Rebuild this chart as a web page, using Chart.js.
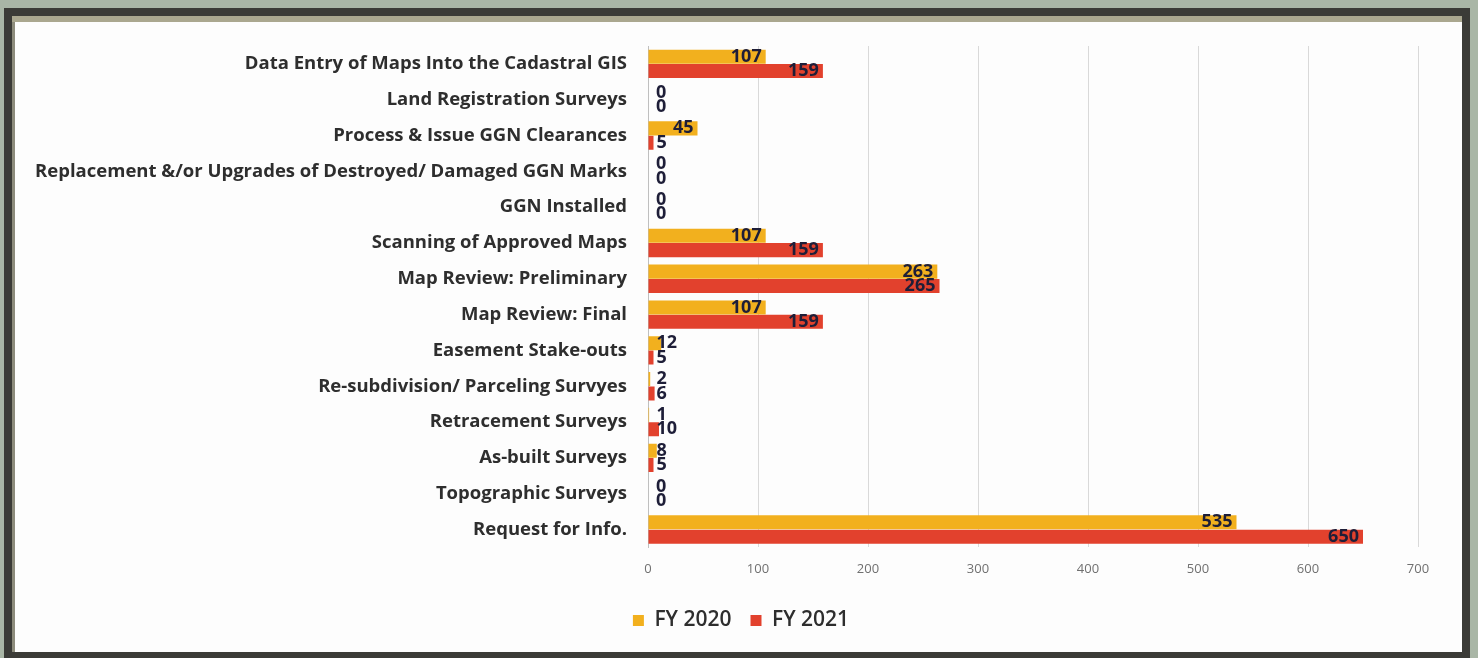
<!DOCTYPE html>
<html>
<head>
<meta charset="utf-8">
<script src="https://cdn.jsdelivr.net/npm/chart.js@4"></script>
<style>
 body{margin:0;background:#a9b6a6;width:1478px;height:658px;overflow:hidden;position:relative}
 #frame{position:absolute;left:4px;top:8px;width:1450px;height:636px;border:8px solid #3b3b37;border-bottom-width:6px;background:#fdfdfd;box-shadow:inset 0 6px 0 #aaa78f, inset 3px 0 0 #8d8c7c}
 #chart{position:absolute;left:0;top:0}
</style>
</head>
<body>
<div id="frame"></div>
<canvas id="chart" width="1478" height="658"></canvas>
<script>
const categories=[
 "Data Entry of Maps Into the Cadastral GIS",
 "Land Registration Surveys",
 "Process & Issue GGN Clearances",
 "Replacement &/or Upgrades of Destroyed/ Damaged GGN Marks",
 "GGN Installed",
 "Scanning of Approved Maps",
 "Map Review: Preliminary",
 "Map Review: Final",
 "Easement Stake-outs",
 "Re-subdivision/ Parceling Survyes",
 "Retracement Surveys",
 "As-built Surveys",
 "Topographic Surveys",
 "Request for Info."
];
const fy2020=[107,0,45,0,0,107,263,107,12,2,1,8,0,535];
const fy2021=[159,0,5,0,0,159,265,159,5,6,10,5,0,650];
const xTicks=[0,100,200,300,400,500,600,700];

const labelFont="'Open Sans', 'Noto Sans', sans-serif";

// value labels at the end of each bar (inside end, or just past the axis when too short)
const valueLabels={
 id:"valueLabels",
 afterUpdate(chart){
  // legend sits a little right of centre in the original
  if(chart.legend){chart.legend.left+=22;chart.legend.right+=22;}
 },
 afterDatasetsDraw(chart){
  let ctx=chart.ctx;
  ctx.save();
  ctx.font="bold 18px "+labelFont;
  ctx.fillStyle="#1e1e38";
  ctx.textBaseline="middle";
  chart.data.datasets.forEach((ds,i)=>{
   chart.getDatasetMeta(i).data.forEach((bar,j)=>{
    let t=String(ds.data[j]);
    let w=ctx.measureText(t).width;
    if(bar.x-bar.base>w+8){
     ctx.textAlign="right";
     ctx.fillText(t,bar.x-4,bar.y);
    }else{
     ctx.textAlign="left";
     ctx.fillText(t,bar.base+8,bar.y);
    }
   });
  });
  ctx.restore();
 }
};

new Chart(document.getElementById("chart"),{
 type:"bar",
 data:{
  labels:categories,
  datasets:[
   {label:"FY 2020",data:fy2020,backgroundColor:"#f2b01e"},
   {label:"FY 2021",data:fy2021,backgroundColor:"#e2412d"}
  ]
 },
 options:{
  indexAxis:"y",
  responsive:false,
  animation:false,
  layout:{padding:{left:20,right:60,top:46,bottom:17}},
  datasets:{bar:{categoryPercentage:0.8,barPercentage:0.98}},
  scales:{
   x:{
    min:0,max:700,
    afterBuildTicks:s=>{s.ticks=xTicks.map(v=>({value:v}));},
    grid:{color:"#d9d9d9",drawTicks:false},
    border:{display:false},
    ticks:{color:"#707070",padding:14,font:{family:labelFont,size:13}}
   },
   y:{
    grid:{display:false,drawTicks:false},
    border:{color:"#bfbfbf"},
    afterFit:s=>{s.width=628;},
    ticks:{color:"#2e2e2e",padding:21,font:{family:labelFont,size:18.5,weight:"bold"}}
   }
  },
  plugins:{
   legend:{
    position:"bottom",
    labels:{boxWidth:11,boxHeight:11,color:"#2e2e2e",padding:19,font:{family:labelFont,size:21,weight:"600"}}
   },
   tooltip:{enabled:false}
  }
 },
 plugins:[valueLabels]
});
</script>
</body>
</html>
